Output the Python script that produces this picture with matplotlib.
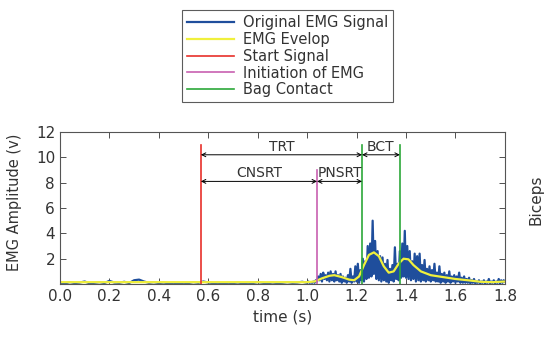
import numpy as np
import matplotlib
matplotlib.use("Agg")
import matplotlib.pyplot as plt

# baseline part of the raw signal, 0.00 .. 0.98 s every 0.02 s
base_t = np.arange(0, 1.0, 0.02)
base_v = [0.10, 0.05, 0.15, 0.08, 0.12, 0.20, 0.06, 0.10, 0.15, 0.08,
          0.25, 0.12, 0.10, 0.18, 0.08, 0.30, 0.35, 0.20, 0.10, 0.15,
          0.08, 0.12, 0.06, 0.10, 0.05, 0.10, 0.08, 0.15, 0.10, 0.20,
          0.12, 0.08, 0.10, 0.05, 0.10, 0.08, 0.12, 0.06, 0.10, 0.08,
          0.15, 0.10, 0.06, 0.12, 0.08, 0.10, 0.15, 0.10, 0.12, 0.18]

# active part, 1.000 .. 1.800 s every 0.005 s
act_t = np.arange(1.0, 1.8001, 0.005)
act_v = [0.1, 0.2, 0.1, 0.15, 0.1, 0.2, 0.1, 0.3, 0.2, 0.6,
         0.3, 0.8, 0.2, 0.9, 0.4, 0.7, 0.3, 0.9, 0.2, 1.0,
         0.3, 0.8, 0.2, 1.0, 0.3, 0.7, 0.2, 0.8, 0.1, 0.6,
         0.2, 0.5, 0.1, 0.7, 0.2, 1.2, 0.1, 0.6, 0.2, 1.4,
         0.2, 1.6, 0.1, 1.1, 0.3, 2.0, 0.2, 1.8, 0.4, 3.0,
         0.5, 3.2, 0.6, 5.0, 0.8, 3.4, 0.4, 2.6, 0.3, 2.2,
         0.2, 2.1, 0.3, 1.6, 0.2, 1.9, 0.1, 1.2, 0.3, 1.5,
         0.2, 2.9, 0.4, 1.6, 0.3, 2.6, 0.5, 3.2, 0.6, 4.2,
         0.5, 3.0, 0.4, 2.6, 0.3, 1.8, 0.4, 2.4, 0.2, 2.2,
         0.3, 2.4, 0.2, 1.5, 0.3, 1.9, 0.2, 1.2, 0.3, 1.4,
         0.2, 1.1, 0.3, 1.6, 0.2, 0.9, 0.2, 1.4, 0.1, 0.8,
         0.2, 0.9, 0.1, 0.7, 0.2, 1.0, 0.1, 0.6, 0.2, 0.7,
         0.1, 0.6, 0.2, 0.9, 0.1, 0.5, 0.1, 0.6, 0.1, 0.4,
         0.1, 0.5, 0.05, 0.3, 0.1, 0.4, 0.05, 0.2, 0.1, 0.3,
         0.05, 0.2, 0.1, 0.3, 0.05, 0.2, 0.1, 0.4, 0.05, 0.2,
         0.1, 0.3, 0.05, 0.2, 0.1, 0.4, 0.05, 0.3, 0.1, 0.3,
         0.2]

env_t = [0, 0.2, 0.4, 0.6, 0.8, 1.0, 1.03, 1.06, 1.09, 1.11, 1.14, 1.17,
         1.19, 1.21, 1.23, 1.25, 1.27, 1.29, 1.31, 1.33, 1.35, 1.37, 1.39,
         1.41, 1.43, 1.46, 1.5, 1.55, 1.6, 1.65, 1.7, 1.75, 1.8]
env_v = [0.15, 0.15, 0.15, 0.15, 0.15, 0.15, 0.2, 0.45, 0.65, 0.7, 0.55,
         0.35, 0.3, 0.6, 1.5, 2.3, 2.5, 2.2, 1.4, 0.9, 1.0, 1.6, 2.0, 1.95,
         1.5, 1.0, 0.7, 0.55, 0.4, 0.3, 0.18, 0.15, 0.2]

t_start = 0.57
t_init = 1.04
t_bag1 = 1.222
t_bag2 = 1.375

sig_t = np.concatenate([base_t, act_t])
sig_v = np.concatenate([base_v, act_v])

plt.rcParams['font.family'] = 'DejaVu Sans'
fig = plt.figure(figsize=(5.5, 3.41), dpi=100)
ax = fig.add_axes([0.109, 0.167, 0.809, 0.446])

h1, = ax.plot(sig_t, sig_v, color='#1f4e9c', lw=1.6)
h2, = ax.plot(env_t, env_v, color='#f0f03c', lw=1.6)
h3, = ax.plot([t_start, t_start], [0, 11], color='#e8302a', lw=1.2)
h4, = ax.plot([t_init, t_init], [0, 9], color='#c860b0', lw=1.2)
h5, = ax.plot([t_bag1, t_bag1], [0, 11], color='#2ca83a', lw=1.2)
ax.plot([t_bag2, t_bag2], [0, 11], color='#2ca83a', lw=1.2)

ap = dict(arrowstyle='<->', color='black', lw=0.7, shrinkA=0, shrinkB=0,
          mutation_scale=7)
ax.annotate('', xy=(t_start, 10.2), xytext=(t_bag1, 10.2), arrowprops=ap)
ax.annotate('', xy=(t_bag1, 10.2), xytext=(t_bag2, 10.2), arrowprops=ap)
ax.annotate('', xy=(t_start, 8.1), xytext=(t_init, 8.1), arrowprops=ap)
ax.annotate('', xy=(t_init, 8.1), xytext=(t_bag1, 8.1), arrowprops=ap)
tk = dict(ha='center', va='bottom', fontsize=10, color='#333333')
ax.text((t_start + t_bag1) / 2, 10.3, 'TRT', **tk)
ax.text((t_bag1 + t_bag2) / 2, 10.3, 'BCT', **tk)
ax.text((t_start + t_init) / 2, 8.2, 'CNSRT', **tk)
ax.text((t_init + t_bag1) / 2, 8.2, 'PNSRT', **tk)

ax.set_xlim(0, 1.8)
ax.set_ylim(0, 12)
ax.set_xticks(np.arange(0, 1.81, 0.2))
ax.set_xticklabels(['%.1f' % v for v in np.arange(0, 1.81, 0.2)])
ax.set_yticks([2, 4, 6, 8, 10, 12])
ax.tick_params(direction='in', top=True, right=True, labelsize=11,
               colors='#333333', length=4, width=0.6)
for s in ax.spines.values():
    s.set_color('#555555')
    s.set_linewidth(0.8)
ax.set_xlabel('time (s)', fontsize=11, color='#333333')
ax.set_ylabel('EMG Amplitude (v)', fontsize=10.5, color='#333333')
ax.yaxis.set_label_coords(-0.085, 0.54)
fig.text(0.975, 0.413, 'Biceps', rotation=90, ha='center', va='center',
         fontsize=11, color='#333333')

leg = fig.legend([h1, h2, h3, h4, h5],
                 ['Original EMG Signal', 'EMG Evelop', 'Start Signal',
                  'Initiation of EMG', 'Bag Contact'],
                 loc='upper left', bbox_to_anchor=(0.331, 0.97),
                 fontsize=10.5, frameon=True, fancybox=False,
                 borderpad=0.35, labelspacing=0.12, handlelength=3.2,
                 borderaxespad=0, handletextpad=0.6)
leg.get_frame().set_edgecolor('#333333')
leg.get_frame().set_linewidth(0.8)
for t in leg.get_texts():
    t.set_color('#333333')

fig.savefig('out.png', dpi=100)
